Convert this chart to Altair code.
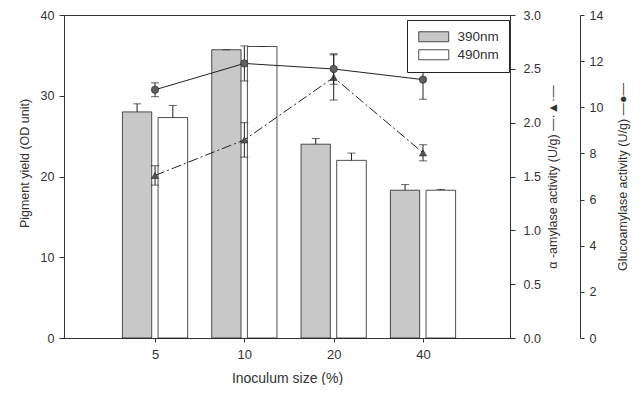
import altair as alt
import pandas as pd

# ---- data ----
sizes = [5, 10, 20, 40]
p390 = [28.0, 35.7, 24.0, 18.3]
p390_err = [1.0, 0.0, 0.7, 0.7]
p490 = [27.3, 36.1, 22.0, 18.3]
p490_err = [1.5, 0.0, 0.9, 0.1]
alpha = [1.51, 1.84, 2.42, 1.72]
alpha_err = [0.09, 0.16, 0.21, 0.075]
gluco = [10.76, 11.90, 11.66, 11.20]
gluco_err = [0.30, 0.76, 0.66, 0.85]

FONT = "Liberation Sans"
INK = "#333333"
W, H = 446, 323

# bar placement (in log2 steps) around each category
OFF = {"390nm": (-0.365, -0.037), "490nm": (0.034, 0.365)}

rows = []
for i, s_ in enumerate(sizes):
    for s, vals, errs in (("390nm", p390, p390_err), ("490nm", p490, p490_err)):
        a, b = OFF[s]
        rows.append({"size": s_, "series": s, "x0": s_ * 2 ** a, "x1": s_ * 2 ** b,
                     "xc": s_ * 2 ** ((a + b) / 2), "v": vals[i], "top": vals[i] + errs[i]})
bars = pd.DataFrame(rows)
lines = pd.DataFrame({"size": sizes, "alpha": alpha,
                      "alo": [a - e for a, e in zip(alpha, alpha_err)],
                      "ahi": [a + e for a, e in zip(alpha, alpha_err)],
                      "gluco": gluco,
                      "glo": [g - e for g, e in zip(gluco, gluco_err)],
                      "ghi": [g + e for g, e in zip(gluco, gluco_err)]})

xscale = alt.Scale(type="log", base=2, domain=[2.467, 78.57], nice=False)
x_axis = alt.Axis(values=sizes, format="d", title="Inoculum size (%)", grid=False,
                  tickSize=4, labelPadding=6, titlePadding=10,
                  labelFontSize=13, titleFontSize=14, labelFont=FONT, titleFont=FONT,
                  labelColor=INK, titleColor=INK, titleFontWeight="normal",
                  domainColor=INK, tickColor=INK)
# same axis definition on every layer so the shared x axis is kept
XA = lambda f: alt.X(f, scale=xscale, axis=x_axis)

ys_left = alt.Scale(domain=[0, 40], nice=False)
ys_a = alt.Scale(domain=[0, 3], nice=False)
ys_g = alt.Scale(domain=[0, 14], nice=False)


def yaxis(**kw):
    base = dict(grid=False, labelFontSize=12.5, titleFontSize=12.5, labelFont=FONT, titleFont=FONT,
                labelColor=INK, titleColor=INK, titleFontWeight="normal",
                domainColor=INK, tickColor=INK)
    base.update(kw)
    return alt.Axis(**base)


layers = []
# ---- bars (left axis) ----
layers.append(alt.Chart(bars).mark_bar(stroke="#222222", strokeWidth=0.8).encode(
    x=XA("x0:Q"),
    x2="x1:Q",
    y=alt.Y("v:Q", scale=ys_left,
            axis=yaxis(orient="left", values=[0, 10, 20, 30, 40], title="Pigment yield (OD unit)",
                       tickSize=5, labelPadding=5, titlePadding=9, titleY=148)),
    y2=alt.datum(0),
    fill=alt.Fill("series:N",
                  scale=alt.Scale(domain=["390nm", "490nm"], range=["#c8c8c8", "#ffffff"]),
                  legend=alt.Legend(title=None, orient="none", legendX=343, legendY=5,
                                    symbolType="M-1,-1H5V1H-1Z", symbolSize=100,
                                    labelOffset=27,
                                    symbolStrokeColor="#222222", symbolStrokeWidth=0.8,
                                    strokeColor="#222222", padding=10, labelFontSize=13.5,
                                    rowPadding=3, labelColor=INK,
                                    labelFont=FONT, fillColor="white")),
))
layers.append(alt.Chart(bars).mark_rule(color="#222222", strokeWidth=1).encode(
    x=XA("xc:Q"), y=alt.Y("v:Q", scale=ys_left, axis=None), y2="top:Q"))
layers.append(alt.Chart(bars).mark_tick(color="#222222", thickness=1, size=8, orient="horizontal").encode(
    x=XA("xc:Q"), y=alt.Y("top:Q", scale=ys_left, axis=None)))

# ---- alpha-amylase (right axis 1) ----
layers.append(alt.Chart(lines).mark_line(color="#222222", strokeWidth=1, strokeDash=[10, 3, 2, 3]).encode(
    x=XA("size:Q"),
    y=alt.Y("alpha:Q", scale=ys_a,
            axis=yaxis(orient="right", values=[0, 0.5, 1, 1.5, 2, 2.5, 3], format=".1f",
                       title="α  -amylase activity (U/g)   —·▲·—", titleAngle=270,
                       titleBaseline="top", tickSize=5, labelPadding=8, titlePadding=6)),
))
layers.append(alt.Chart(lines).mark_rule(color="#222222", strokeWidth=1).encode(
    x=XA("size:Q"), y=alt.Y("alo:Q", scale=ys_a, axis=None), y2="ahi:Q"))
for f in ("ahi:Q", "alo:Q"):
    layers.append(alt.Chart(lines).mark_tick(color="#222222", thickness=1, size=8, orient="horizontal").encode(
        x=XA("size:Q"), y=alt.Y(f, scale=ys_a, axis=None)))
layers.append(alt.Chart(lines).mark_point(shape="triangle-up", filled=True, size=50, color="#555555",
                                          stroke="#222222", strokeWidth=0.6, opacity=1).encode(
    x=XA("size:Q"), y=alt.Y("alpha:Q", scale=ys_a, axis=None)))

# ---- glucoamylase (right axis 2) ----
layers.append(alt.Chart(lines).mark_line(color="#222222", strokeWidth=1).encode(
    x=XA("size:Q"),
    y=alt.Y("gluco:Q", scale=ys_g,
            axis=yaxis(orient="right", offset=70, values=list(range(0, 15, 2)),
                       title="Glucoamylase activity (U/g)   —●—", titleAngle=270,
                       titleBaseline="top", tickSize=4, labelPadding=5, titlePadding=14)),
))
layers.append(alt.Chart(lines).mark_rule(color="#222222", strokeWidth=1).encode(
    x=XA("size:Q"), y=alt.Y("glo:Q", scale=ys_g, axis=None), y2="ghi:Q"))
for f in ("ghi:Q", "glo:Q"):
    layers.append(alt.Chart(lines).mark_tick(color="#222222", thickness=1, size=8, orient="horizontal").encode(
        x=XA("size:Q"), y=alt.Y(f, scale=ys_g, axis=None)))
layers.append(alt.Chart(lines).mark_point(shape="circle", filled=True, size=55, color="#606060",
                                          stroke="#222222", strokeWidth=0.6, opacity=1).encode(
    x=XA("size:Q"), y=alt.Y("gluco:Q", scale=ys_g, axis=None)))

chart = alt.layer(*layers).resolve_scale(
    y="independent"
).properties(
    width=W, height=H,
    autosize=alt.AutoSizeParams(type="none"),
    padding={"left": 56, "top": 7, "right": 122, "bottom": 47},
    background="white",
).configure_view(
    stroke=INK, strokeWidth=1
)

chart.save("out.html", embed_options={"renderer": "svg", "actions": False})
